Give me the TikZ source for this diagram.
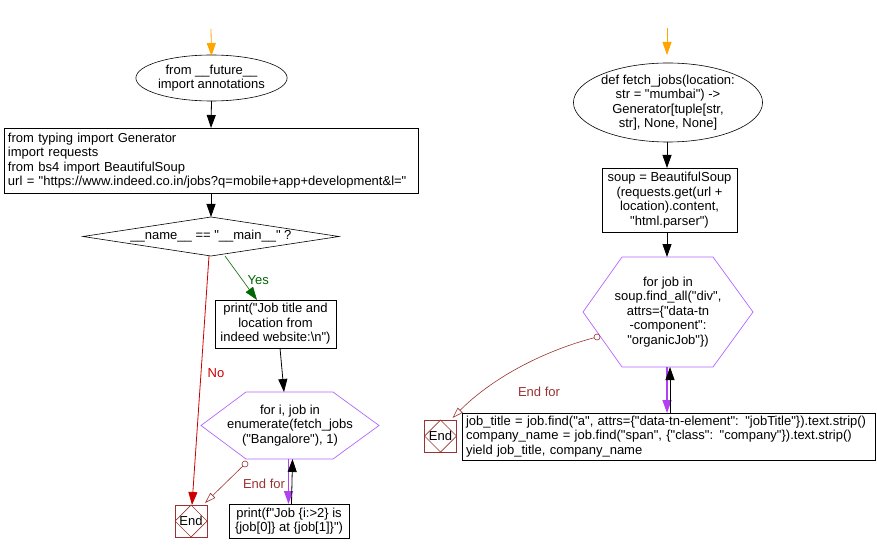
\documentclass[tikz,border=0pt]{standalone}
\usepackage{fontspec}
\setmainfont{Liberation Sans}[Ligatures=TeXOff]
\usetikzlibrary{shapes.geometric,arrows.meta,calc}
\definecolor{startc}{HTML}{FFA500}
\definecolor{yesc}{HTML}{006600}
\definecolor{noc}{HTML}{CC0000}
\definecolor{endc}{HTML}{993333}
\definecolor{loopc}{HTML}{B266FF}
\definecolor{looparr}{HTML}{B040F0}
\begin{document}
\begin{tikzpicture}[x=1pt,y=-1pt,
  font=\fontsize{13}{14.5}\selectfont,
  every node/.style={inner sep=0pt, outer sep=0pt},
  arr/.style={-{Triangle[length=13pt,width=9pt]}, line width=0.8pt},
  openarr/.style={-{Triangle[open,length=11pt,width=7pt]}, line width=0.6pt},
  ellbox/.style={ellipse, draw, line width=0.6pt},
  procbox/.style={rectangle, draw, line width=0.8pt, align=center},
  codebox/.style={rectangle, draw, line width=0.8pt, align=left, inner xsep=4pt},
  decbox/.style={diamond, draw, line width=0.6pt},
  loopnode/.style={align=center},
  endbox/.style={rectangle, draw=endc, line width=0.8pt, minimum width=32pt, minimum height=32pt},
  lbl/.style={font=\fontsize{13}{14.5}\selectfont}
]
\useasboundingbox (0,0) rectangle (877,553);

% ---------- left flow ----------
\coordinate (s1) at (211,29);
\node[ellbox, minimum width=129pt, minimum height=46pt, align=center] (e0) at (211.5,78)
  {from \_\_future\_\_\\import annotations};
\node[codebox, text width=406pt, minimum height=65pt] (imp) at (211,160.5)
  {from typing import Generator\\import requests\\from bs4 import BeautifulSoup\\url = "https://www.indeed.co.in/jobs?q=mobile+app+development\&l="};
\node[decbox, minimum width=256pt, minimum height=39pt, aspect=6.5] (dec) at (211,236.5)
  {\_\_name\_\_ == "\_\_main\_\_" ?};
\node[procbox, minimum width=121pt, minimum height=48pt] (p1) at (275.5,324)
  {print("Job title and\\location from\\indeed website:\textbackslash n")};
\node[loopnode, minimum width=178pt, minimum height=67pt] (h1) at (290,425.5)
  {for i, job in\\enumerate(fetch\_jobs\\("Bangalore"), 1)};
\draw[loopc, line width=0.7pt] (h1.west) -- ([xshift=45pt]h1.north west) -- ([xshift=-46pt]h1.north east)
  -- (h1.east) -- ([xshift=-46pt]h1.south east) -- ([xshift=45pt]h1.south west) -- cycle;
\node[procbox, minimum width=120pt, minimum height=34pt] (p2) at (289,521)
  {print(f"Job \{i:>2\} is\\\{job[0]\} at \{job[1]\}")};
\node[endbox] (end1) at (191,521) {End};
\draw[endc, line width=0.7pt] (end1.north) -- (end1.east) -- (end1.south) -- (end1.west) -- cycle;
\node[circle, draw=endc, line width=0.6pt, minimum size=6pt] (c1) at (245,464) {};

\draw[arr, startc] (s1) -- ([yshift=-1pt]e0.north);
\draw[arr] (e0.south) -- (imp.north);
\draw[arr] (imp.south) -- (dec.north);
\draw[arr, yesc, line width=0.6pt] ([xshift=14pt]dec.south) -- ([xshift=-18.5pt]p1.north)
  node[pos=0.55, right=5pt, text=yesc, lbl] (yes) {Yes};
\draw[arr, noc] ([xshift=-2pt]dec.south) -- ([xshift=1pt]end1.north);
\node[text=noc, lbl] (no) at (216,373) {No};
\draw[arr] ([xshift=4.5pt]p1.south) -- ([xshift=-6pt]h1.north);
\draw[arr, looparr, line width=1.4pt] ([xshift=-1.5pt]h1.south) -- ([xshift=-0.5pt]p2.north);
\draw[arr] ([xshift=2.5pt]p2.north) -- ([xshift=2.5pt]h1.south);
\draw[openarr, endc] (c1) -- ([xshift=-2pt,yshift=2pt]end1.north east);
\node[text=endc, lbl] (ef1) at (264,484) {End for};

% ---------- right flow ----------
\coordinate (s2) at (667,28);
\node[ellbox, minimum width=167pt, minimum height=79pt, align=center] (e2) at (668,102.5)
  {def fetch\_jobs(location:\\str = "mumbai") ->\\Generator[tuple[str,\\str], None, None]};
\node[procbox, minimum width=135pt, minimum height=64pt] (soup) at (669.5,200)
  {soup = BeautifulSoup\\(requests.get(url +\\location).content,\\"html.parser")};
\node[loopnode, minimum width=170pt, minimum height=110pt] (h2) at (668,312)
  {for job in\\soup.find\_all("div",\\attrs=\{"data-tn\\-component":\\"organicJob"\})};
\draw[loopc, line width=0.7pt] (h2.west) -- ([xshift=39pt]h2.north west) -- ([xshift=-40pt]h2.north east)
  -- (h2.east) -- ([xshift=-40pt]h2.south east) -- ([xshift=39pt]h2.south west) -- cycle;
\node[codebox, text width=405pt, minimum height=47pt] (body) at (668.5,436.5)
  {job\_title = job.find("a", attrs=\{"data-tn-element": "jobTitle"\}).text.strip()\\company\_name = job.find("span", \{"class": "company"\}).text.strip()\\yield job\_title, company\_name};
\node[endbox] (end2) at (440.5,436) {End};
\draw[endc, line width=0.7pt] (end2.north) -- (end2.east) -- (end2.south) -- (end2.west) -- cycle;
\node[circle, draw=endc, line width=0.6pt, minimum size=6pt] (c2) at (597,337) {};

\draw[arr, startc] (s2) -- (667,55);
\draw[arr] ([xshift=-1pt]e2.south) -- ([xshift=-2.5pt]soup.north);
\draw[arr] ([xshift=-2.5pt]soup.south) -- ([xshift=-1pt]h2.north);
\draw[arr, looparr, line width=1.4pt] ([xshift=-1pt]h2.south) -- ([xshift=-1.5pt]body.north);
\draw[arr] ([xshift=1.5pt]body.north) -- ([xshift=2pt]h2.south);
\draw[openarr, endc] (c2) .. controls (540,352) and (490,380) .. ([xshift=-4pt,yshift=2pt]end2.north east);
\node[text=endc, lbl] (ef2) at (539,392) {End for};
\end{tikzpicture}
\end{document}
